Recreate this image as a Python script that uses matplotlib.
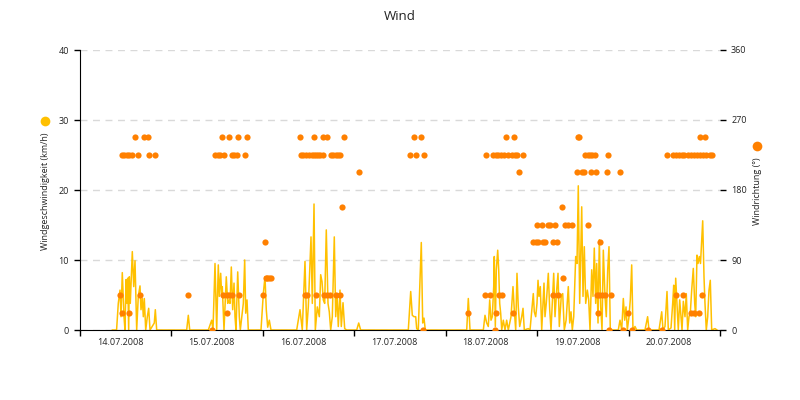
import matplotlib
matplotlib.use("Agg")
import matplotlib.pyplot as plt
import pandas as pd
from matplotlib.lines import Line2D

plt.rcParams['font.family'] = ['Open Sans', 'DejaVu Sans']

# ---------------- data ----------------
start = pd.Timestamp("2008-07-14 00:00")
day_labels = ["14.07.2008", "15.07.2008", "16.07.2008", "17.07.2008",
              "18.07.2008", "19.07.2008", "20.07.2008"]

# wind speed (km/h), time in hours since 14.07.2008 00:00
speed_hours = [
    8.5, 9.6, 10.05, 10.5, 10.76, 11.1, 11.55, 11.81, 12.08, 12.34, 12.52, 12.78, 12.94, 13.2, 13.73,
    14.1, 14.44, 14.88, 15.3, 15.75, 16.01, 16.35, 16.62, 16.88, 17.25, 17.67, 18.03, 18.38, 19.5,
    19.77, 20.13, 28.0, 28.43, 28.8,
    33.68, 34.57, 34.91, 35.44, 35.88, 36.3, 36.57, 36.93, 37.2, 37.35, 37.8, 38.4, 38.77, 39.11,
    39.38, 39.72, 40.08, 40.43, 40.69, 40.95, 41.4, 41.82, 42.08, 42.87, 43.23, 43.5, 43.84, 44.18,
    47.51, 48.12, 48.56, 48.9, 49.27, 49.69, 50.14,
    56.88, 57.75, 58.35, 59.06, 59.5, 59.93, 60.64, 60.98, 61.43, 61.77, 62.29, 62.82, 63.18, 63.53,
    63.87, 64.23, 64.65, 65.1, 65.44, 65.81, 66.23, 66.75, 67.12, 67.46, 67.8, 68.25, 68.59, 69.04,
    69.48, 70.0, 72.63, 73.16, 73.68,
    86.18, 86.81, 87.23, 87.68, 88.12, 88.38, 88.8, 89.59, 89.96, 90.3, 90.64,
    101.51, 101.93, 102.38, 105.87, 106.31, 106.76, 107.18, 107.55, 107.89, 108.23, 108.6, 108.75,
    109.02, 109.28, 109.65, 109.91, 110.17, 110.43, 110.7, 111.12, 111.56, 112.0, 112.43, 113.14,
    113.66, 114.0, 114.37, 114.71, 115.05, 115.42, 115.95, 116.29, 116.63, 117.68, 118.13, 118.99,
    119.25, 119.62, 119.96, 120.23, 120.49, 120.83, 121.2, 121.54, 121.8, 122.06, 122.4, 122.93,
    123.3, 123.64, 123.98, 124.35, 124.69, 125.13, 125.48, 125.82, 126.35, 126.71, 127.13, 127.6,
    128.18, 128.55, 128.89, 129.23, 129.6, 130.12, 130.46, 130.8, 131.17, 131.7, 132.04, 132.38,
    132.75, 133.17, 133.53, 133.88, 134.32, 134.66, 135.0, 135.37, 135.63, 135.98, 136.32, 136.68,
    137.03, 137.37, 137.81, 138.15, 138.52, 138.86, 139.2, 141.3, 141.75, 142.2, 142.62, 142.98,
    143.33, 143.67, 144.11, 144.45, 144.82, 145.16, 145.69, 146.13,
    148.31, 149.0, 149.36, 151.99, 152.7, 153.04, 153.56, 154.09, 154.43, 155.14, 155.58, 155.85,
    156.11, 156.37, 156.71, 157.05, 157.42, 157.76, 158.03, 158.37, 158.81, 159.15, 159.52, 159.86,
    160.2, 160.57, 160.99, 161.36, 161.62, 161.96, 162.23, 162.57, 162.88, 163.2, 163.46, 163.8,
    164.06, 164.4, 164.77, 165.11, 165.45, 165.82, 166.69, 167.2,
]
speed_kmh = [
    0, 0, 3.8, 5.7, 1.9, 8.2, 1.9, 0, 7.2, 3.8, 7.4, 0, 7.6, 3.8, 11.2,
    6.2, 9.9, 0, 4.8, 6.3, 2.9, 4.5, 1.9, 4.5, 0, 1.9, 3.1, 0, 1.0,
    2.9, 0, 0, 2.1, 0,
    0, 1.4, 0, 9.5, 0, 9.3, 4.8, 8.1, 4.8, 6.2, 0, 7.6, 3.8, 4.3,
    3.8, 9.0, 2.9, 6.7, 1.9, 0, 8.3, 1.9, 0, 3.8, 10.0, 2.4, 4.3, 0,
    0, 5.2, 7.6, 2.9, 0.4, 1.4, 0,
    0, 2.9, 0, 9.8, 0, 3.3, 13.3, 3.8, 18.0, 0, 3.3, 1.9, 7.9, 6.9,
    4.3, 3.8, 14.3, 3.8, 2.6, 0, 1.9, 13.3, 1.9, 5.2, 0.5, 5.7, 0.5, 3.9,
    0.2, 0, 0, 1.0, 0,
    0, 5.5, 2.1, 1.9, 1.9, 0.2, 0, 12.5, 1.0, 1.7, 0,
    0, 4.5, 0, 0, 2.1, 1.0, 0.5, 4.3, 1.4, 1.9, 6.2, 10.5,
    0.5, 8.6, 11.4, 8.6, 3.8, 2.4, 0, 1.4, 0, 1.4, 0, 1.9,
    6.2, 2.9, 0, 8.1, 3.3, 0.5, 1.9, 3.1, 0, 0.2, 0, 5.2,
    2.6, 1.9, 3.8, 7.1, 4.8, 6.2, 0, 3.8, 6.7, 1.9, 3.8, 8.1,
    2.9, 0, 3.8, 8.1, 1.9, 5.7, 8.1, 0.5, 5.0, 5.2, 0, 1.4,
    6.2, 1.0, 2.6, 0, 1.9, 10.5, 9.5, 20.6, 3.8, 17.6, 4.8, 11.9,
    3.8, 5.7, 4.3, 0, 8.6, 4.8, 11.7, 3.8, 9.5, 1.0, 12.9, 3.3,
    0, 11.4, 4.8, 1.9, 8.6, 11.9, 0, 0, 1.4, 0, 4.5, 1.4,
    3.3, 0, 1.9, 4.3, 9.3, 0, 0.5, 0,
    0, 1.9, 0, 0, 2.6, 0, 0.5, 5.5, 0, 0.3, 3.8, 6.4,
    0, 7.4, 3.8, 0, 4.3, 1.9, 0, 4.1, 1.9, 5.2, 0, 1.9,
    2.4, 5.7, 8.8, 3.8, 1.9, 10.7, 9.5, 10.5, 9.5, 12.9, 15.6, 7.6,
    3.8, 0, 1.9, 5.7, 7.1, 0, 0.2, 0,
]

# wind direction (deg) samples, hours since 14.07.2008 00:00, grouped by direction
dir_values = [0, 22.5, 45, 67.5, 112.5, 135, 157.5, 202.5, 225, 247.5]
t_000 = [34.73, 89.96, 108.94, 138.94, 142.62, 144.82, 149.0, 152.7]
t_022 = [11.1, 12.78, 38.51, 101.93, 109.28, 113.58, 136.06, 143.76, 160.48, 161.26, 162.57]
t_045 = [10.42, 15.75, 28.43, 37.46, 38.67, 39.11, 39.82, 41.82, 48.12, 59.06, 59.67, 61.87,
         64.05, 64.84, 65.63, 67.2, 68.25, 106.31, 107.63, 110.07, 110.7, 124.24, 125.4, 135.63,
         136.32, 137.03, 137.81, 139.39, 156.37, 158.37, 163.2]
t_067 = [48.74, 49.17, 49.61, 50.06, 126.71]
t_112 = [48.56, 118.99, 119.62, 120.3, 121.46, 122.06, 124.09, 125.13, 136.42]
t_135 = [120.04, 121.2, 122.93, 123.38, 124.69, 127.31, 128.18, 129.07, 133.43]
t_157 = [68.85, 126.45]
t_202 = [73.24, 115.32, 130.36, 131.67, 132.36, 134.03, 135.37, 138.42, 141.75]
t_225 = [11.1, 11.68, 12.26, 12.86, 13.52, 15.3, 18.11, 19.77, 35.44, 36.14, 36.75, 37.88,
         39.82, 40.43, 41.13, 43.31, 57.93, 58.54, 59.33, 60.19, 60.77, 61.35, 61.95, 62.55,
         63.13, 63.71, 65.89, 66.49, 67.2, 67.8, 68.38, 86.63, 88.2, 90.3, 106.58, 108.33,
         109.07, 109.8, 110.59, 111.38, 112.27, 113.48, 114.19, 114.79, 116.37, 132.56, 133.22,
         133.88, 134.53, 135.19, 138.68, 154.0, 155.58, 156.37, 157.16, 157.95, 158.63, 159.6,
         160.39, 161.18, 162.04, 162.75, 163.54, 164.4, 165.3, 165.82]
t_247 = [14.44, 16.8, 17.77, 37.2, 39.19, 41.48, 43.84, 57.83, 61.5, 63.79, 64.84, 69.22,
         87.68, 89.59, 111.7, 114.0, 130.64, 131.07, 162.75, 164.06]
dir_times = [t_000, t_022, t_045, t_067, t_112, t_135, t_157, t_202, t_225, t_247]

speed_ticks = [0, 10, 20, 30, 40]
dir_ticks = [0, 90, 180, 270, 360]

# ---------------- plot ----------------
YELLOW = "#FFC000"
ORANGE = "#FF8000"
TXT = "#222222"

fig = plt.figure(figsize=(8, 4), dpi=100)
ax = fig.add_axes([0.1, 0.175, 0.8, 0.7])
ax2 = ax.twinx()

ts = start + pd.to_timedelta(speed_hours, unit="h")
ax.plot(ts, speed_kmh, color=YELLOW, lw=1.1, solid_joinstyle="round", zorder=2)

for d, hrs in zip(dir_values, dir_times):
    td = start + pd.to_timedelta(hrs, unit="h")
    ax2.scatter(td, [d] * len(hrs), s=20, color=ORANGE, linewidths=0, zorder=3)

end = start + pd.Timedelta(days=7)
ax.set_xlim(start, end)
ax.set_ylim(0, 40)
ax2.set_ylim(0, 360)
ax.set_yticks(speed_ticks)
ax2.set_yticks(dir_ticks)

# grid
ax.set_axisbelow(True)
ax.yaxis.grid(True, color="#d9d9d9", linestyle=(0, (5, 4)), lw=1)
ax.xaxis.grid(False)

# x ticks: marks at midnight, labels near mid-day
major = [start + pd.Timedelta(days=i) for i in range(8)]
minor = [start + pd.Timedelta(days=i, hours=10.5) for i in range(7)]
ax.set_xticks(major)
ax.set_xticklabels([""] * len(major))
ax.set_xticks(minor, minor=True)
ax.set_xticklabels(day_labels, minor=True)
ax.tick_params(axis="x", which="major", length=4, width=1, color="black", direction="out")
ax.tick_params(axis="x", which="minor", length=0, pad=6, labelsize=6.5, labelcolor=TXT)
ax.tick_params(axis="y", length=4, width=1, color="black", labelsize=6.5, labelcolor=TXT, pad=4)
ax2.tick_params(axis="y", length=4, width=1, color="black", labelsize=6.5, labelcolor=TXT, pad=4)

for s in ["top", "right"]:
    ax.spines[s].set_visible(False)
for s in ax2.spines.values():
    s.set_visible(False)
ax.spines["left"].set_color("black")
ax.spines["bottom"].set_color("black")

# titles / labels
fig.text(0.5, 1 - 16 / 400, "Wind", ha="center", va="center", fontsize=9.5, color=TXT)
fig.text(46 / 800, 1 - 191 / 400, "Windgeschwindigkeit (km/h)", rotation=90,
         ha="center", va="center", fontsize=6.5, color=TXT)
fig.text(757 / 800, 1 - 191 / 400, "Windrichtung (°)", rotation=90,
         ha="center", va="center", fontsize=6.5, color=TXT)
fig.add_artist(Line2D([45 / 800], [1 - 121 / 400], marker="o", markersize=7,
                      color=YELLOW, markeredgewidth=0, transform=fig.transFigure))
fig.add_artist(Line2D([757 / 800], [1 - 146 / 400], marker="o", markersize=7,
                      color=ORANGE, markeredgewidth=0, transform=fig.transFigure))

fig.savefig("out.png", dpi=100)
